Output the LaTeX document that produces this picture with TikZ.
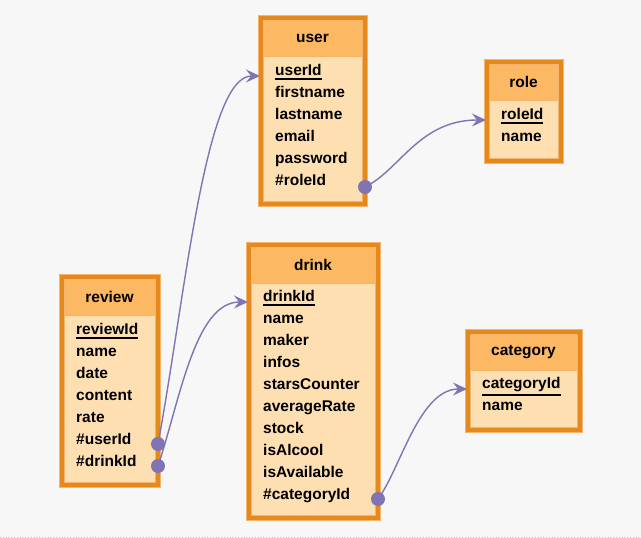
\documentclass[tikz,border=0pt]{standalone}
\usepackage{fontspec}
\setmainfont{Liberation Sans}
\usepackage{xcolor}
\usetikzlibrary{positioning,arrows.meta}

\definecolor{pagebg}{HTML}{F7F7F7}
\definecolor{tableedge}{HTML}{E6891C}
\definecolor{tablerim}{HTML}{F3B56E}
\definecolor{headfill}{HTML}{FDB864}
\definecolor{bodyfill}{HTML}{FEDFB2}
\definecolor{linkcol}{HTML}{8174B3}
\newcommand{\pkey}[1]{\vtop{\hbox{#1}\kern3pt\hrule height 2pt}}

\tikzset{
    table/.style={draw=tablerim, fill=tableedge, line width=1pt, inner sep=0pt, outer sep=0pt},
    thead/.style={draw=tablerim, fill=headfill, line width=0.8pt, inner sep=0pt, outer sep=0pt,
        font=\fontsize{15.5pt}{18pt}\selectfont\bfseries},
    tbody/.style={draw=tablerim, fill=bodyfill, line width=0.8pt, inner sep=0pt, outer sep=0pt},
    field/.style={anchor=base west, inner sep=0pt, font=\fontsize{15.5pt}{18pt}\selectfont\bfseries},
    link/.style={draw=linkcol, line width=1.4pt, -{Stealth[length=14pt, width=13pt, inset=5pt]}},
    fkdot/.style={circle, fill=linkcol, inner sep=0pt, minimum size=14pt},
}

\begin{document}
\begin{tikzpicture}[x=1pt, y=-1pt]
        \fill[pagebg] (0,0) rectangle (641,538);
        \useasboundingbox (0,0) rectangle (641,538);
        \draw[black!25, dotted, line width=0.8pt] (0,537) -- (641,537);

        % tables
        \node[table, minimum width=109pt, minimum height=191pt] (userbox) at (312.5,110.5) {};
        \node[thead, minimum width=99pt, minimum height=36pt, below right=5pt and 5pt of userbox.north west] (userhead) {user};
        \node[tbody, minimum width=99pt, minimum height=145pt, below=0pt of userhead] (userbody) {};

        \node[table, minimum width=79pt, minimum height=104pt] (rolebox) at (523.5,111) {};
        \node[thead, minimum width=69pt, minimum height=36pt, below right=5pt and 5pt of rolebox.north west] (rolehead) {role};
        \node[tbody, minimum width=69pt, minimum height=58pt, below=0pt of rolehead] (rolebody) {};

        \node[table, minimum width=101pt, minimum height=213pt] (reviewbox) at (109.5,380.5) {};
        \node[thead, minimum width=91pt, minimum height=36pt, below right=5pt and 5pt of reviewbox.north west] (reviewhead) {review};
        \node[tbody, minimum width=91pt, minimum height=167pt, below=0pt of reviewhead] (reviewbody) {};

        \node[table, minimum width=134pt, minimum height=278pt] (drinkbox) at (313,381) {};
        \node[thead, minimum width=124pt, minimum height=36pt, below right=5pt and 5pt of drinkbox.north west] (drinkhead) {drink};
        \node[tbody, minimum width=124pt, minimum height=232pt, below=0pt of drinkhead] (drinkbody) {};

        \node[table, minimum width=117pt, minimum height=103pt] (categorybox) at (523.5,380.5) {};
        \node[thead, minimum width=107pt, minimum height=36pt, below right=5pt and 5pt of categorybox.north west] (categoryhead) {category};
        \node[tbody, minimum width=107pt, minimum height=57pt, below=0pt of categoryhead] (categorybody) {};

        % fields
        \foreach \f [count=\i] in {\pkey{userId}, firstname, lastname, email, password, \#roleId}
            \node[field] (user-\i) at (275,{75+22*(\i-1)}) {\f};
        \foreach \f [count=\i] in {\pkey{roleId}, name}
            \node[field] (role-\i) at (501,{119+22*(\i-1)}) {\f};
        \foreach \f [count=\i] in {\pkey{reviewId}, name, date, content, rate, \#userId, \#drinkId}
            \node[field] (review-\i) at (76,{334+22*(\i-1)}) {\f};
        \foreach \f [count=\i] in {\pkey{drinkId}, name, maker, infos, starsCounter, averageRate, stock, isAlcool, isAvailable, \#categoryId}
            \node[field] (drink-\i) at (263,{301+22*(\i-1)}) {\f};
        \foreach \f [count=\i] in {\pkey{categoryId}, name}
            \node[field] (category-\i) at (482,{388+22*(\i-1)}) {\f};

        % link ends
        \coordinate[xshift=2pt, yshift=-1pt] (userIn) at (userbox.west |- user-1.base);
        \coordinate[xshift=2pt, yshift=-1pt] (roleIn) at (rolebox.west |- role-1.base);
        \coordinate[xshift=2pt, yshift=-1pt] (drinkIn) at (drinkbox.west |- drink-1.base);
        \coordinate[xshift=2pt, yshift=-1pt] (categoryIn) at (categorybox.west |- category-1.base);
        \coordinate[xshift=-2pt, yshift=-2pt] (userRoleOut) at (userbox.east |- user-6.base);
        \coordinate[xshift=-2pt] (reviewUserOut) at (reviewbox.east |- review-6.base);
        \coordinate[xshift=-2pt] (reviewDrinkOut) at (reviewbox.east |- review-7.base);
        \coordinate[xshift=-2pt] (drinkCategoryOut) at (drinkbox.east |- drink-10.base);

        % links
        \draw[link] (reviewUserOut) .. controls +(27,-145) and +(-55,0) .. (userIn);
        \draw[link] (reviewDrinkOut) .. controls +(22,-66) and +(-53,0) .. (drinkIn);
        \draw[link] (userRoleOut) .. controls +(35,-17) and +(-67,0) .. (roleIn);
        \draw[link] (drinkCategoryOut) .. controls +(22,-29) and +(-48,0) .. (categoryIn);

        \node[fkdot] (reviewUserDot) at (reviewUserOut) {};
        \node[fkdot] (reviewDrinkDot) at (reviewDrinkOut) {};
        \node[fkdot] (userRoleDot) at (userRoleOut) {};
        \node[fkdot] (drinkCategoryDot) at (drinkCategoryOut) {};
\end{tikzpicture}
\end{document}
